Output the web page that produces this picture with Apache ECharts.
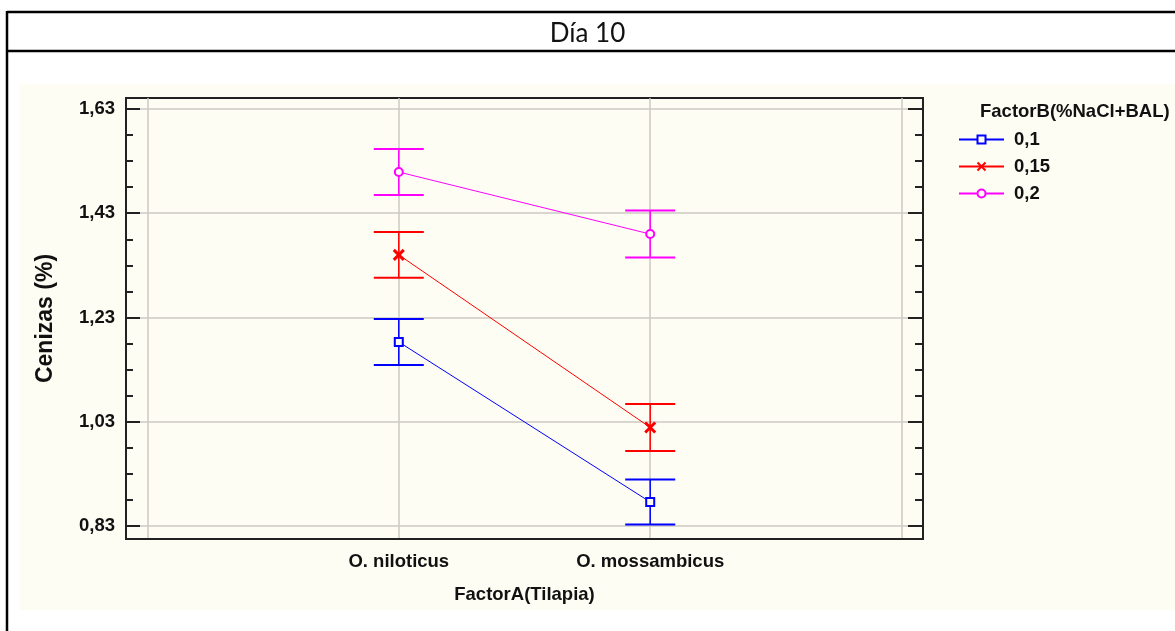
<!DOCTYPE html>
<html>
<head>
<meta charset="utf-8">
<script src="https://cdn.jsdelivr.net/npm/echarts@6/dist/echarts.min.js"></script>
<style>
  html, body { margin: 0; padding: 0; background: #ffffff; }
  #chart { width: 1175px; height: 631px; }
</style>
</head>
<body>
<div id="chart"></div>
<script>
// Factor A levels (x axis) and Factor B levels (series)
const categories = ['O. niloticus', 'O. mossambicus'];
const levelsB = ['0,1', '0,15', '0,2'];

// Mean ash content (%) per level of Factor B, one value per category
const mean01  = [1.183, 0.876];
const mean015 = [1.350, 1.019];
const mean02  = [1.509, 1.390];

// Half-width of each interval (error bar)
const err01  = [0.044, 0.043];
const err015 = [0.044, 0.045];
const err02  = [0.044, 0.045];

// Y axis tick values
const majorTicks = [0.83, 1.03, 1.23, 1.43, 1.63];
const minorTicks = [0.88, 0.93, 0.98, 1.08, 1.13, 1.18, 1.28, 1.33, 1.38, 1.48, 1.53, 1.58];
// X axis gridline positions and labelled positions
const xGrid = [0, 1, 2, 3];
const xLabelPos = [1, 2];

const BLUE = '#0000ff', RED = '#ff0000', MAGENTA = '#ff00ff';
const CREAM = '#fdfdf4';
const FONT = "'Liberation Sans', Arial, sans-serif";
const FS = 18.5;
const Y_MIN = 0.805, Y_MAX = 1.651;

const fmtComma = v => String(Math.round(v * 100) / 100).replace('.', ',');

function points(vals) {
  return vals.map((v, i) => [i + 1, v]);
}
function intervals(vals, errs) {
  return vals.map((v, i) => [i + 1, v - errs[i], v + errs[i]]);
}

function errorBars(params, api) {
  const x = api.value(0);
  const lo = api.coord([x, api.value(1)]);
  const hi = api.coord([x, api.value(2)]);
  const c = api.visual('color');
  const w = 25;
  const style = { stroke: c, lineWidth: 2 };
  return {
    type: 'group',
    children: [
      { type: 'line', shape: { x1: lo[0], y1: lo[1], x2: hi[0], y2: hi[1] }, style: { stroke: c, lineWidth: 1.5 } },
      { type: 'line', shape: { x1: lo[0] - w, y1: lo[1], x2: lo[0] + w, y2: lo[1] }, style },
      { type: 'line', shape: { x1: hi[0] - w, y1: hi[1], x2: hi[0] + w, y2: hi[1] }, style }
    ]
  };
}

function yAxisDef(position, tickValues, tickLen, showLine, showLabel, showSplit) {
  return {
    type: 'value',
    position: position,
    min: Y_MIN,
    max: Y_MAX,
    axisLine: { show: showLine, onZero: false, lineStyle: { color: '#222', width: 2 } },
    axisTick: { show: true, inside: true, length: tickLen, customValues: tickValues, lineStyle: { color: '#222', width: 2 } },
    axisLabel: {
      show: showLabel, customValues: majorTicks, margin: 11,
      formatter: fmtComma,
      fontFamily: FONT, fontWeight: 'bold', fontSize: FS, color: '#111'
    },
    splitLine: { show: showSplit, lineStyle: { color: '#cdc9c3', width: 1.5 } }
  };
}

const xSymbol = 'path://M0,0L10,10M10,0L0,10';

function lineSeries(name, vals, color, symbol, size) {
  return {
    name: name,
    type: 'line',
    data: points(vals),
    color: color,
    symbol: symbol,
    symbolSize: size,
    lineStyle: { color: color, width: 1 },
    itemStyle: symbol === xSymbol
      ? { color: color, borderColor: color, borderWidth: 3 }
      : { color: CREAM, borderColor: color, borderWidth: 2 },
    z: 3
  };
}

function errSeries(vals, errs, color) {
  return {
    type: 'custom',
    data: intervals(vals, errs),
    color: color,
    encode: { x: 0, y: [1, 2] },
    renderItem: errorBars,
    z: 2
  };
}

const chart = echarts.init(document.getElementById('chart'), null, { renderer: 'canvas' });

chart.setOption({
  backgroundColor: '#ffffff',
  animation: false,
  title: [
    {
      text: 'Día 10', left: 'center', top: 16,
      textStyle: { fontFamily: 'Lato, sans-serif', fontWeight: 'normal', fontSize: 26, color: '#111' }
    },
    {
      text: 'FactorB(%NaCl+BAL)', left: 975, top: 97,
      textStyle: { fontFamily: FONT, fontWeight: 'bold', fontSize: FS, color: '#111' }
    }
  ],
  graphic: [
    { type: 'rect', z: -100, silent: true, shape: { x: 19, y: 84, width: 1160, height: 526 }, style: { fill: CREAM } },
    { type: 'line', silent: true, shape: { x1: 7, y1: 12, x2: 1175, y2: 12 }, style: { stroke: '#000', lineWidth: 2.5 } },
    { type: 'line', silent: true, shape: { x1: 7, y1: 51, x2: 1175, y2: 51 }, style: { stroke: '#000', lineWidth: 2.5 } },
    { type: 'line', silent: true, shape: { x1: 7, y1: 11, x2: 7, y2: 631 }, style: { stroke: '#000', lineWidth: 2.5 } }
  ],
  legend: {
    orient: 'vertical',
    left: 953, top: 125,
    itemWidth: 45, itemHeight: 10, itemGap: 8,
    data: levelsB,
    textStyle: { fontFamily: FONT, fontWeight: 'bold', fontSize: FS, color: '#111', padding: [0, 0, 0, 5] }
  },
  grid: {
    left: 126, top: 98, right: 252, bottom: 92,
    show: true, backgroundColor: CREAM, borderColor: '#222', borderWidth: 2
  },
  xAxis: {
    type: 'value',
    min: -0.085, max: 3.085,
    name: 'FactorA(Tilapia)',
    nameLocation: 'middle',
    nameGap: 46,
    nameTextStyle: { fontFamily: FONT, fontWeight: 'bold', fontSize: FS, color: '#111' },
    axisLine: { show: true, onZero: false, lineStyle: { color: '#222', width: 2 } },
    axisTick: { show: false, customValues: xGrid },
    axisLabel: {
      customValues: xLabelPos, margin: 13,
      formatter: v => categories[Math.round(v) - 1] || '',
      fontFamily: FONT, fontWeight: 'bold', fontSize: FS, color: '#111'
    },
    splitLine: { show: true, lineStyle: { color: '#cdc9c3', width: 1.5 } }
  },
  yAxis: [
    Object.assign(yAxisDef('left', majorTicks, 14, true, true, true), {
      name: 'Cenizas (%)',
      nameLocation: 'middle',
      nameGap: 69,
      nameTextStyle: { fontFamily: FONT, fontWeight: 'bold', fontSize: 23, color: '#111' }
    }),
    yAxisDef('left', minorTicks, 7, false, false, false),
    yAxisDef('right', majorTicks, 15, true, false, false),
    yAxisDef('right', minorTicks, 8, false, false, false)
  ],
  series: [
    errSeries(mean01, err01, BLUE),
    errSeries(mean015, err015, RED),
    errSeries(mean02, err02, MAGENTA),
    lineSeries(levelsB[0], mean01, BLUE, 'rect', 8),
    lineSeries(levelsB[1], mean015, RED, xSymbol, 10),
    lineSeries(levelsB[2], mean02, MAGENTA, 'circle', 8)
  ]
});
</script>
</body>
</html>
